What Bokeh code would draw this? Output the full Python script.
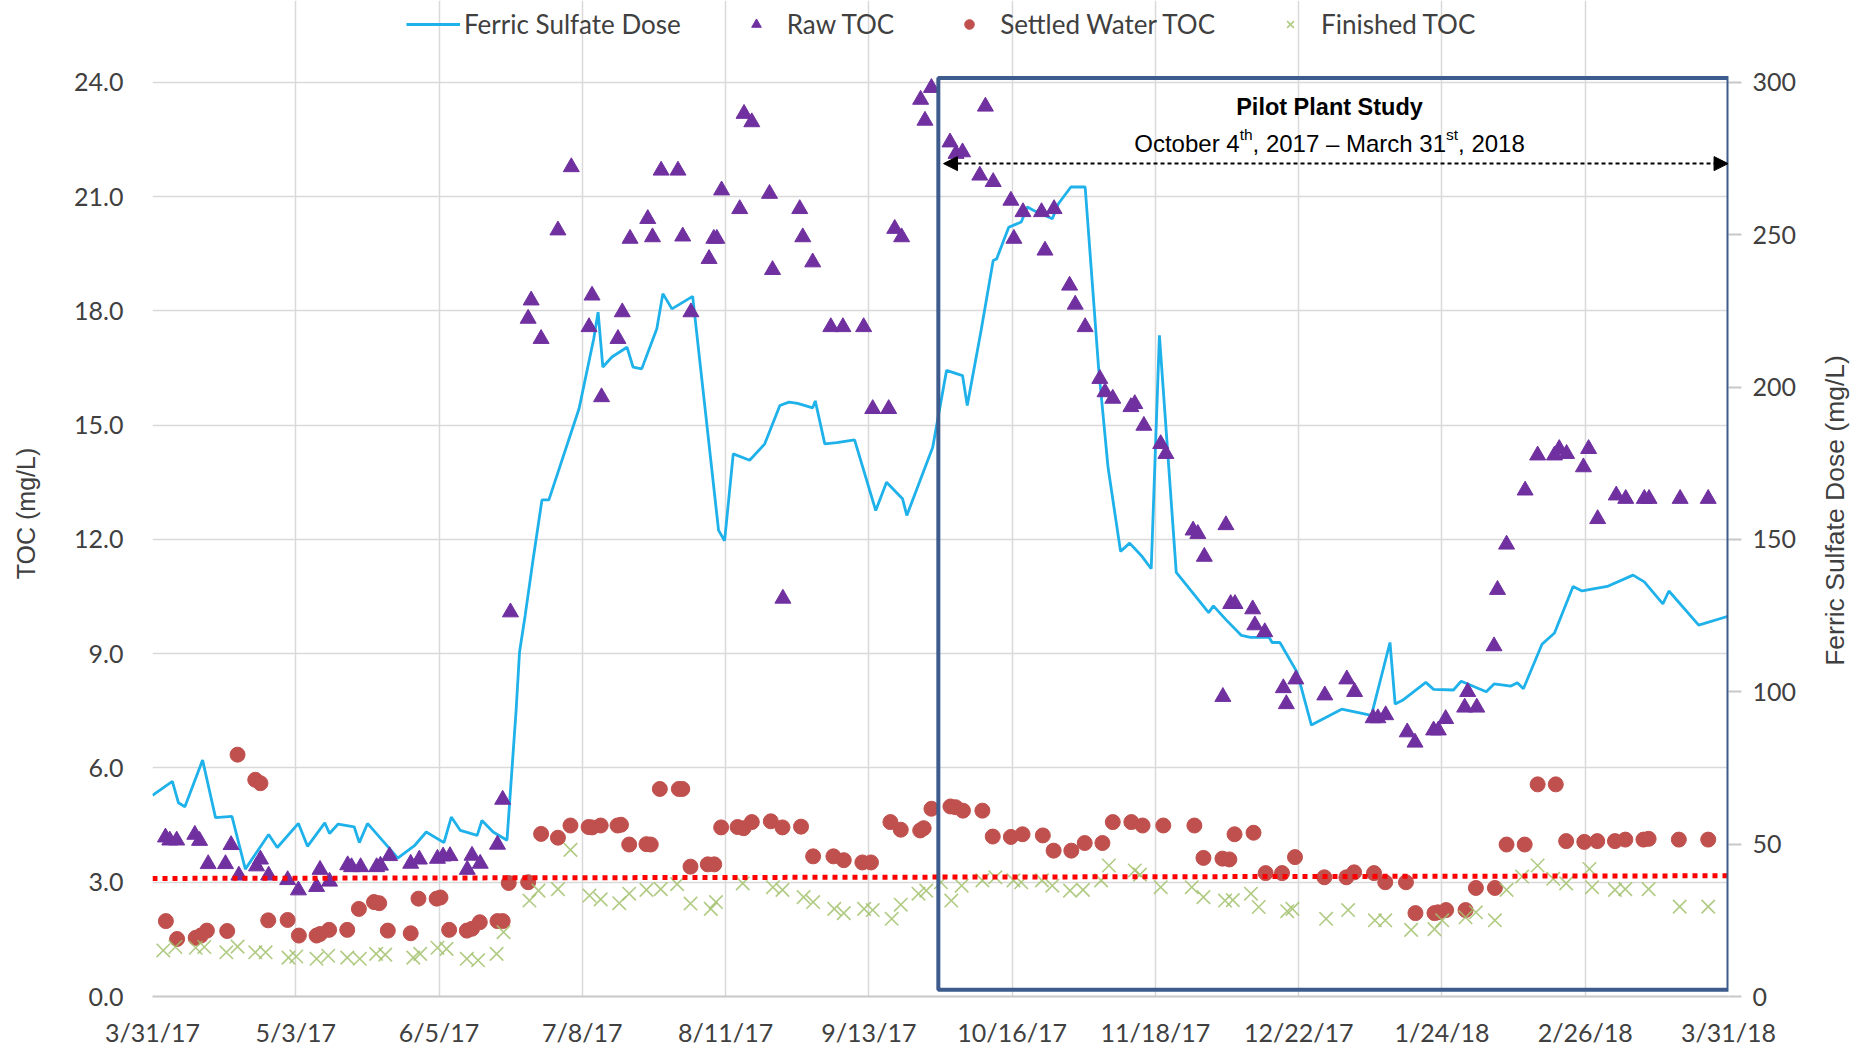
import math
from bokeh.plotting import figure
from bokeh.models import (Range1d, LinearAxis, FixedTicker, Legend, LegendItem, Label,
                          BoxAnnotation, Arrow, NormalHead, PrintfTickFormatter)
from bokeh.core.properties import value
from bokeh.embed import file_html
from bokeh.resources import INLINE

# ---------------- data (x = days since 3/31/2017) ----------------
x_tick_labels = ["3/31/17", "5/3/17", "6/5/17", "7/8/17", "8/11/17", "9/13/17",
                 "10/16/17", "11/18/17", "12/22/17", "1/24/18", "2/26/18", "3/31/18"]
x_span_days = 365
toc_ticks = [0, 3, 6, 9, 12, 15, 18, 21, 24]
dose_ticks = [0, 50, 100, 150, 200, 250, 300]

dose_day = [0.0, 4.6, 6.0, 7.5, 11.6, 14.6, 18.4, 21.5, 26.9, 28.9, 33.8, 35.9, 39.9, 41.0,
            43.0, 46.7, 47.9, 49.8, 54.3, 56.8, 60.6, 63.4, 67.5, 69.2, 71.3, 75.2, 76.3,
            78.9, 82.1, 84.2, 85.0, 86.3, 88.1, 90.2, 91.8, 98.8, 102.2, 103.2, 104.3,
            106.4, 109.9, 111.3, 113.3, 116.8, 118.2, 120.3, 125.1, 131.1, 132.5, 134.5,
            138.3, 141.8, 145.3, 147.4, 149.4, 152.9, 153.5, 155.7, 158.5, 162.6, 167.5,
            170.0, 173.7, 174.7, 180.7, 183.9, 187.6, 188.7, 191.9, 194.7, 195.5, 198.3,
            201.2, 202.6, 204.1, 208.4, 209.8, 212.7, 216.0, 219.1, 221.3, 224.2, 226.3,
            229.2, 231.3, 233.2, 237.1, 240.7, 244.6, 245.7, 248.6, 252.2, 254.3, 258.6,
            259.3, 261.1, 265.1, 268.4, 275.4, 282.3, 286.6, 287.8, 289.5, 294.9, 296.7,
            301.3, 303.1, 308.9, 310.7, 314.6, 316.1, 317.5, 321.8, 324.7, 329.0, 331.1,
            336.9, 342.9, 345.5, 349.8, 351.2, 358.1, 364.9]
dose_val = [66.0, 70.6, 63.6, 62.3, 77.6, 58.7, 59.1, 41.8, 53.2, 48.9, 56.8, 49.3, 57.0, 53.5,
            56.6, 55.7, 50.5, 56.8, 49.5, 45.4, 49.4, 54.0, 50.5, 58.9, 54.5, 52.9, 57.8,
            54.0, 51.3, 93.7, 113.0, 125.0, 143.0, 163.0, 163.0, 193.0, 216.0, 224.6, 206.6,
            209.9, 213.1, 206.6, 206.0, 219.2, 230.7, 225.7, 229.8, 153.0, 149.6, 178.1,
            176.0, 181.4, 194.0, 195.1, 194.7, 193.2, 195.5, 181.4, 181.8, 182.7, 159.5,
            168.8, 163.4, 157.9, 180.3, 205.5, 203.8, 194.0, 218.6, 241.6, 242.1, 252.5,
            254.2, 259.1, 258.0, 255.3, 260.2, 265.7, 265.7, 206.6, 173.7, 146.1, 148.8,
            144.4, 140.4, 217.0, 139.2, 132.9, 126.0, 128.2, 123.7, 118.5, 117.9, 117.9,
            116.2, 116.2, 106.4, 89.1, 94.3, 92.3, 116.2, 96.0, 97.2, 103.1, 100.8,
            100.6, 103.5, 100.0, 102.6, 101.9, 103.0, 101.0, 115.6, 119.3, 134.6, 133.1,
            134.6, 138.3, 136.1, 128.9, 133.1, 121.9, 124.8]

raw_day = [3.0, 4.0, 5.6, 9.8, 10.9, 12.9, 16.9, 18.2, 20.0, 24.1, 25.0, 26.9, 31.3, 33.8,
           38.0, 38.8, 41.0, 45.2, 46.1, 48.2, 51.9, 52.8, 54.9, 59.8, 61.8, 66.0, 67.3,
           68.9, 72.9, 74.0, 75.9, 79.9, 81.1, 82.9, 87.0, 87.7, 90.0, 93.9, 97.0, 101.1,
           101.8, 104.0, 107.8, 108.8, 110.6, 114.7, 115.8, 117.8, 121.7, 122.8, 124.7,
           128.9, 130.0, 130.7, 131.8, 136.0, 137.0, 138.8, 142.9, 143.6, 146.0, 149.9,
           150.6, 152.9, 157.1, 159.9, 164.7, 166.8, 170.5, 171.9, 173.5, 177.9, 178.9,
           180.4, 184.7, 186.1, 187.6, 191.6, 192.9, 194.7, 198.8, 199.5, 201.6, 205.9,
           206.7, 208.8, 212.4, 213.7, 216.0, 219.4, 220.6, 222.4, 226.6, 227.5, 229.6,
           233.5, 234.7, 241.0, 242.1, 243.6, 247.9, 248.6, 249.7, 250.7, 254.8, 255.3,
           257.6, 261.9, 262.6, 264.8, 271.5, 276.6, 278.4, 282.7, 283.8, 285.6, 290.6,
           292.4, 296.7, 297.8, 299.5, 303.9, 304.6, 306.7, 310.7, 311.5, 313.6, 317.9,
           320.8, 324.7, 325.8, 327.5, 331.4, 332.6, 334.7, 339.0, 341.2, 345.5, 346.6,
           353.8, 360.3]
raw_toc = [4.18, 4.10, 4.10, 4.25, 4.09, 3.48, 3.48, 3.98, 3.18, 3.42, 3.60, 3.18, 3.06, 2.79,
           2.88, 3.33, 3.02, 3.45, 3.40, 3.40, 3.40, 3.44, 3.69, 3.49, 3.60, 3.62, 3.68,
           3.69, 3.33, 3.70, 3.49, 3.99, 5.17, 10.09, 17.80, 18.28, 17.27, 20.12, 21.78, 17.58,
           18.41, 15.74, 17.27, 17.97, 19.90, 20.42, 19.94, 21.69, 21.69, 19.96, 17.97,
           19.37, 19.90, 19.90, 21.17, 20.68, 23.18, 22.96, 21.08, 19.08, 10.45, 20.68,
           19.94, 19.28, 17.58, 17.58, 17.58, 15.43, 15.43, 20.16, 19.94, 23.55, 23.00,
           23.86, 22.43, 22.13, 22.17, 21.56, 23.37, 21.39, 20.90, 19.90, 20.60, 20.60,
           19.59, 20.68, 18.67, 18.17, 17.58, 16.22, 15.87, 15.70, 15.48, 15.56, 14.99,
           14.51, 14.25, 12.24, 12.15, 11.55, 7.87, 12.38, 10.31, 10.31, 10.17, 9.75,
           9.57, 8.10, 7.68, 8.33, 7.91, 8.33, 8.00, 7.31, 7.31, 7.39, 6.94,
           6.67, 6.99, 6.99, 7.29, 7.59, 8.00, 7.59, 9.20, 10.68, 11.87, 13.29,
           14.21, 14.21, 14.38, 14.25, 13.90, 14.38, 12.54, 13.16, 13.07, 13.07, 13.07,
           13.07, 13.07]

settled_day = [3.1, 5.7, 10.0, 11.2, 12.6, 17.3, 19.7, 23.8, 25.0, 26.8, 31.3, 33.9, 38.0,
               38.8, 40.9, 45.1, 47.8, 51.3, 52.5, 54.5, 59.8, 61.6, 65.8, 66.7, 68.7, 72.8,
               74.0, 75.8, 79.9, 81.1, 82.5, 87.0, 90.0, 93.9, 96.8, 101.0, 101.8, 103.8,
               107.7, 108.5, 110.4, 114.4, 115.4, 117.5, 121.9, 122.7, 124.6, 128.6, 130.1,
               131.7, 135.5, 136.9, 138.8, 143.2, 145.9, 150.2, 153.0, 157.7, 160.1, 164.4,
               166.4, 170.9, 173.3, 177.8, 178.6, 180.4, 184.8, 186.0, 187.7, 192.2, 194.6,
               198.8, 201.5, 206.2, 208.7, 212.8, 215.9, 220.0, 222.4, 226.7, 229.3, 234.1,
               241.3, 243.4, 247.8, 249.4, 250.6, 255.0, 257.8, 261.6, 264.6, 271.4, 276.5,
               278.3, 282.9, 285.5, 290.3, 292.5, 296.9, 297.7, 299.6, 304.1, 306.5, 310.9,
               313.6, 317.8, 320.8, 325.0, 327.4, 331.6, 334.6, 338.7, 341.1, 345.3, 346.5,
               353.5, 360.3]
settled_toc = [1.98, 1.51, 1.54, 1.60, 1.73, 1.72, 6.35, 5.69, 5.60, 2.00, 2.01, 1.60, 1.60,
               1.64, 1.75, 1.75, 2.30, 2.48, 2.45, 1.73, 1.66, 2.57, 2.57, 2.60, 1.75, 1.73,
               1.78, 1.95, 1.98, 1.98, 2.98, 3.00, 4.27, 4.17, 4.49, 4.45, 4.44, 4.49,
               4.49, 4.51, 3.99, 4.00, 3.99, 5.45, 5.45, 5.45, 3.41, 3.47, 3.47,
               4.44, 4.45, 4.42, 4.58, 4.60, 4.44, 4.46, 3.68, 3.68, 3.58, 3.52,
               3.52, 4.58, 4.38, 4.36, 4.42, 4.93, 4.99, 4.97, 4.88, 4.88, 4.20,
               4.19, 4.26, 4.23, 3.83, 3.83, 4.03, 4.03, 4.58, 4.58, 4.49, 4.49,
               4.49, 3.64, 3.62, 3.60, 4.26, 4.30, 3.24, 3.24, 3.66, 3.13, 3.13,
               3.26, 3.24, 3.00, 3.00, 2.19, 2.19, 2.21, 2.27, 2.27, 2.85, 2.85,
               3.99, 3.99, 5.57, 5.57, 4.08, 4.06, 4.08, 4.08, 4.12, 4.12, 4.14,
               4.12, 4.12]

finished_day = [2.5, 5.3, 10.0, 12.0, 17.1, 19.7, 23.8, 26.2, 31.5, 33.3, 38.0, 40.7, 45.1,
                48.0, 51.8, 53.9, 60.4, 62.0, 66.0, 68.1, 72.8, 75.4, 79.7, 81.3, 87.3, 89.4,
                93.9, 96.8, 101.2, 103.8, 108.1, 110.4, 114.4, 117.7, 121.5, 124.6, 129.3,
                130.5, 136.7, 143.7, 145.9, 150.8, 153.0, 157.9, 160.1, 164.8, 166.8, 171.2,
                173.3, 177.4, 179.2, 182.6, 185.0, 187.4, 192.2, 195.2, 199.4, 201.2, 206.0,
                208.4, 212.5, 215.5, 219.7, 221.5, 227.5, 228.7, 233.5, 240.7, 243.4, 248.4,
                250.2, 254.4, 256.2, 262.8, 264.0, 271.8, 276.9, 283.1, 285.5, 291.5, 296.9,
                298.7, 304.1, 306.5, 310.9, 313.6, 317.2, 320.8, 324.4, 327.4, 332.8, 333.4,
                338.7, 341.1, 346.5, 353.7, 360.3]
finished_toc = [1.21, 1.30, 1.28, 1.30, 1.16, 1.31, 1.16, 1.16, 1.02, 1.05, 0.99, 1.07, 1.02,
                0.99, 1.12, 1.10, 1.02, 1.12, 1.28, 1.25, 0.99, 0.95, 1.12, 1.69, 2.52, 2.78,
                2.82, 3.85, 2.65, 2.55, 2.45, 2.70, 2.80, 2.82, 2.95, 2.44, 2.30,
                2.48, 2.97, 2.87, 2.80, 2.61, 2.48, 2.30, 2.19, 2.30, 2.27, 2.04,
                2.41, 2.70, 2.78, 3.00, 2.52, 2.91, 3.05, 3.13, 3.05, 3.00, 3.05,
                2.91, 2.78, 2.80, 3.05, 3.44, 3.31, 3.20, 2.87, 2.87, 2.61, 2.52,
                2.53, 2.70, 2.35, 2.24, 2.30, 2.04, 2.27, 2.00, 2.00, 1.75, 1.77,
                2.00, 2.08, 2.21, 2.00, 2.80, 3.15, 3.44, 3.09, 2.97, 3.35, 2.87,
                2.80, 2.82, 2.82, 2.36, 2.36]

threshold_day = [0, 365]
threshold_toc = [3.10, 3.17]

pilot_box_days = [182.0, 365.0]
pilot_box_toc = [0.18, 24.12]
pilot_arrow_days = [183.2, 364.9]
pilot_arrow_toc = 21.87
pilot_text_day = 272.6
pilot_title = "Pilot Plant Study"
pilot_title_toc = 23.35
pilot_sub_toc = 22.39
pilot_sub_parts = ["October 4", "th", ", 2017 \u2013 March 31", "st", ", 2018"]

# ---------------- figure ----------------
FONT_TICK = "Lato"
FONT_LBL = "Liberation Sans"
TXT = "#404040"

toc_max = 24
dose_per_toc = 12.5
frame_top = 26.153          # frame extends above 24 to hold the legend
x_ticks = [x_span_days * k / 11 for k in range(12)]

p = figure(width=1872, height=1051, x_range=Range1d(0, x_span_days),
           y_range=Range1d(0, frame_top),
           output_backend="svg", toolbar_location=None,
           min_border_left=152, min_border_right=144, min_border_top=0, min_border_bottom=55)
p.outline_line_color = None
p.extra_y_ranges = {"dose": Range1d(0, frame_top * dose_per_toc)}

# axes
xa = p.xaxis[0]
xa.ticker = FixedTicker(ticks=x_ticks)
xa.major_label_overrides = {t: lab for t, lab in zip(x_ticks, x_tick_labels)}
xa.major_tick_line_color = None
xa.major_tick_out = 0
xa.minor_tick_line_color = None
xa.axis_line_color = "#c8c8c8"
xa.axis_line_width = 2
xa.major_label_text_font = FONT_TICK
xa.major_label_text_font_size = "25px"
xa.major_label_text_color = TXT
xa.major_label_standoff = 20

ya = p.yaxis[0]
ya.ticker = FixedTicker(ticks=toc_ticks)
ya.formatter = PrintfTickFormatter(format="%.1f")
ya.major_tick_line_color = None
ya.major_tick_out = 0
ya.minor_tick_line_color = None
ya.axis_line_color = None
ya.major_label_text_font = FONT_TICK
ya.major_label_text_font_size = "25px"
ya.major_label_text_color = TXT
ya.major_label_standoff = 29

ra = LinearAxis(y_range_name="dose", ticker=FixedTicker(ticks=dose_ticks))
ra.axis_line_color = None
ra.major_tick_out = 13
ra.major_tick_in = 0
ra.major_tick_line_color = "#c8c8c8"
ra.major_tick_line_width = 2
ra.minor_tick_line_color = None
ra.major_label_text_font = FONT_TICK
ra.major_label_text_font_size = "25px"
ra.major_label_text_color = TXT
ra.major_label_standoff = 11
p.add_layout(ra, "right")

# axis titles (both read bottom-to-top, as in the reference)
p.add_layout(Label(x=-18, y=483, x_units="screen", y_units="screen",
                   text="TOC (mg/L)", angle=math.pi / 2,
                   text_align="center", text_baseline="middle",
                   text_font=FONT_LBL, text_font_size="25px", text_color=TXT), "left")
p.add_layout(Label(x=35, y=486, x_units="screen", y_units="screen",
                   text="Ferric Sulfate Dose (mg/L)", angle=math.pi / 2,
                   text_align="center", text_baseline="middle",
                   text_font=FONT_LBL, text_font_size="26.5px", text_color=TXT), "right")

# grids
p.xgrid.ticker = FixedTicker(ticks=x_ticks)
p.ygrid.ticker = FixedTicker(ticks=toc_ticks)
p.xgrid.bounds = (0, toc_max)
for g in (p.xgrid[0], p.ygrid[0]):
    g.grid_line_color = "#d9d9d9"
    g.grid_line_width = 1.5

# series
r_dose = p.line(dose_day, dose_val, y_range_name="dose", line_color="#1eb1ea", line_width=2.8)
r_raw = p.scatter(raw_day, raw_toc, marker="triangle", size=16, fill_color="#7030a0",
                  line_color="#7030a0")
r_set = p.scatter(settled_day, settled_toc, marker="circle", size=15, fill_color="#c0504d",
                  line_color="#c0504d")
r_fin = p.scatter(finished_day, finished_toc, marker="x", size=19, line_color="#a3c26f",
                  line_width=1.6, line_alpha=0.85)

# threshold dotted line
p.line(threshold_day, threshold_toc, line_color="#ff0000", line_width=5, line_dash="5 5")

# pilot plant box
p.add_layout(BoxAnnotation(left=pilot_box_days[0], right=pilot_box_days[1],
                           bottom=pilot_box_toc[0], top=pilot_box_toc[1],
                           fill_alpha=0, line_color="#3d5b8c", line_alpha=1.0,
                           line_width=4))

# arrow
p.add_layout(Arrow(start=NormalHead(size=14, fill_color="black", line_color="black"),
                   end=NormalHead(size=14, fill_color="black", line_color="black"),
                   x_start=pilot_arrow_days[0], x_end=pilot_arrow_days[1],
                   y_start=pilot_arrow_toc, y_end=pilot_arrow_toc,
                   line_color="black", line_width=2, line_dash="4 3"))

# texts
p.text(x=[pilot_text_day], y=[pilot_title_toc], text=[pilot_title], text_align="center",
       text_baseline="alphabetic", text_font=value(FONT_LBL), text_font_size="23.5px",
       text_font_style="bold", text_color="black")

main_fs, sup_fs = 24, 15.5
arial_w = {"October 4": 4.391, ", 2017 \u2013 March 31": 8.060, ", 2018": 2.780,
           "th": 0.834, "st": 0.778}
widths = []
for i, s in enumerate(pilot_sub_parts):
    fs = sup_fs if i in (1, 3) else main_fs
    widths.append(arial_w[s] * fs)
total = sum(widths)
off = -total / 2
for i, s in enumerate(pilot_sub_parts):
    is_sup = i in (1, 3)
    p.text(x=[pilot_text_day], y=[pilot_sub_toc], text=[s], text_align="left",
           text_baseline="alphabetic", text_font=value(FONT_LBL),
           text_font_size=f"{sup_fs if is_sup else main_fs}px", text_color="black",
           x_offset=off, y_offset=(-9 if is_sup else 0))
    off += widths[i]

# legend (inside the extended frame, above the 24.0 line)
legend = Legend(items=[LegendItem(label="Ferric Sulfate Dose", renderers=[r_dose]),
                       LegendItem(label="Raw TOC", renderers=[r_raw]),
                       LegendItem(label="Settled Water TOC", renderers=[r_set]),
                       LegendItem(label="Finished TOC", renderers=[r_fin])],
                orientation="horizontal", location=(254, 956),
                glyph_width=54, glyph_height=24, label_standoff=4, spacing=48,
                padding=0, margin=0, border_line_color=None, background_fill_alpha=0,
                label_text_font=FONT_TICK, label_text_font_size="26px",
                label_text_color=TXT)
p.add_layout(legend)

open("out.html", "w").write(file_html(p, INLINE))
